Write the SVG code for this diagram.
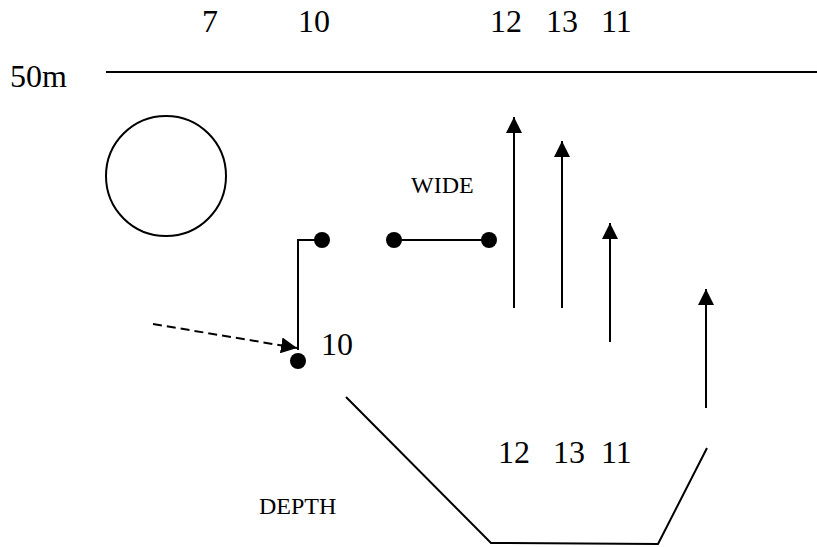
<svg xmlns="http://www.w3.org/2000/svg" width="817" height="547" viewBox="0 0 817 547">
<style>
.t{font-family:"Liberation Serif","Times New Roman",serif;font-size:32px;fill:#000}
.s{font-family:"Liberation Serif","Times New Roman",serif;font-size:24px;fill:#000}
.ln{stroke:#000;stroke-width:2;fill:none}
.dot{fill:#000}
</style>
<defs>
<marker id="ah" viewBox="0 0 16 16" refX="16" refY="8" markerWidth="16" markerHeight="16" markerUnits="userSpaceOnUse" orient="auto">
<path d="M0,0 L16,8 L0,16 Z" fill="#000"/>
</marker>
</defs>
<g id="labels">
<text class="t" x="202" y="32">7</text>
<text class="t" x="298" y="32">10</text>
<text class="t" x="490" y="32">12</text>
<text class="t" x="546" y="32">13</text>
<text class="t" x="601" y="32">11</text>
<text class="t" x="10" y="87">50m</text>
<text class="s" x="411" y="193">WIDE</text>
<text class="s" x="259" y="514">DEPTH</text>
<text class="t" x="321" y="355">10</text>
<text class="t" x="498" y="463">12</text>
<text class="t" x="553" y="463">13</text>
<text class="t" x="601" y="463">11</text>
</g>
<g id="line50m"><line class="ln" x1="106" y1="72" x2="817" y2="72"/></g>
<g id="circle"><circle class="ln" cx="166" cy="176" r="60"/></g>
<g id="dot1"><circle class="dot" cx="322" cy="240" r="8"/></g>
<g id="dot2"><circle class="dot" cx="394" cy="240" r="8"/></g>
<g id="dot3"><circle class="dot" cx="489" cy="240" r="8"/></g>
<g id="dot4"><circle class="dot" cx="298" cy="361" r="8"/></g>
<g id="connectors">
<polyline class="ln" points="322,240 298,240 298,350"/>
<line class="ln" x1="394" y1="240" x2="489" y2="240"/>
<line class="ln" x1="153" y1="324" x2="297" y2="348" stroke-dasharray="9 5" marker-end="url(#ah)"/>
<line class="ln" x1="514" y1="308" x2="514" y2="117" marker-end="url(#ah)"/>
<line class="ln" x1="562" y1="308" x2="562" y2="141" marker-end="url(#ah)"/>
<line class="ln" x1="610" y1="342" x2="610" y2="223" marker-end="url(#ah)"/>
<line class="ln" x1="706" y1="408" x2="706" y2="289" marker-end="url(#ah)"/>
<polyline class="ln" points="346,397 491,543 658,544 707,448"/>
</g>
</svg>
